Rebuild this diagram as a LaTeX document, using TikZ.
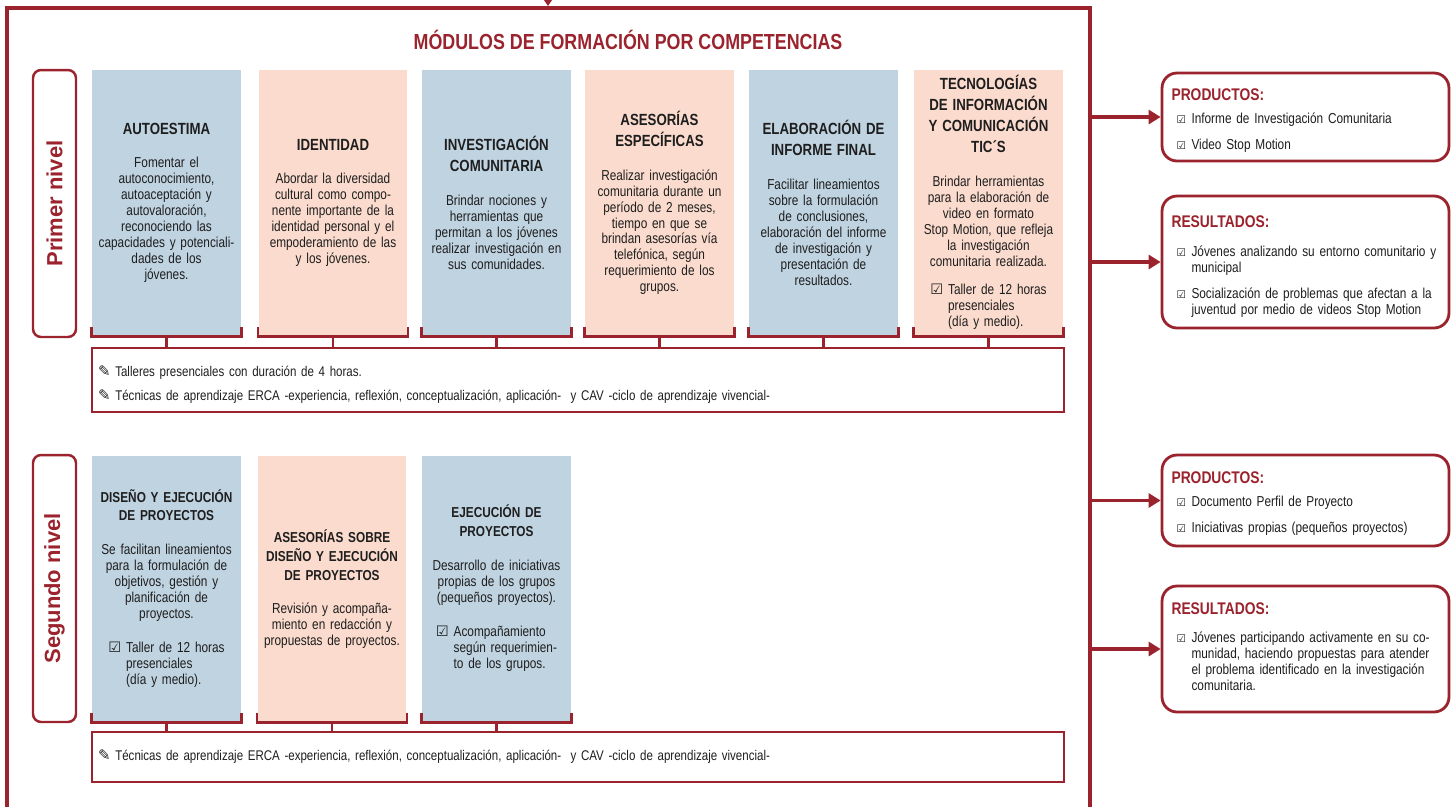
\documentclass[tikz,border=0pt]{standalone}
\usepackage{fontspec}
\setmainfont{Liberation Sans}[FakeStretch=0.82]
\newfontfamily\nivelfont{Liberation Sans}
\newfontfamily\simbfont{DejaVu Sans}
\usetikzlibrary{arrows.meta}

\definecolor{vino}{RGB}{155,35,45}
\definecolor{celeste}{RGB}{192,211,225}
\definecolor{durazno}{RGB}{250,219,205}
\definecolor{tinta}{RGB}{30,30,30}

\newcommand{\txtmod}{\fontsize{8.2}{9.1}\selectfont}
\newcommand{\txtnota}{\fontsize{8}{9.6}\selectfont}
\newcommand{\titmod}[1]{{\fontsize{9.2}{12}\selectfont\bfseries #1\\[10pt]}}
\newcommand{\titmodb}[1]{{\fontsize{8.2}{10.8}\selectfont\bfseries #1\\[10pt]}}
\newcommand{\titsal}[2]{{\fontsize{9.6}{11}\selectfont\bfseries\color{vino}#1\\[#2]}}
\newcommand{\casilla}{{\simbfont\char"2611}}
\newcommand{\casillap}{{\simbfont\fontsize{6}{7}\selectfont\char"2611}}
\newcommand{\lapiz}{{\simbfont\fontsize{8.5}{9}\selectfont\char"270E}}

\tikzset{
  modulo/.style={minimum width=2.98cm, minimum height=5.32cm, text width=2.9cm,
    inner sep=0.04cm, align=center, text=tinta, font=\txtmod},
  azul/.style={modulo, fill=celeste},
  rosa/.style={modulo, fill=durazno},
  nivel/.style={draw=vino, line width=1.4pt, rounded corners=0.16cm, fill=white,
    minimum width=5.34cm, minimum height=0.86cm, inner sep=0pt, rotate=90,
    text=vino, font=\nivelfont\fontsize{12.5}{14}\selectfont\bfseries},
  notas/.style={draw=vino, line width=1.4pt, minimum width=19.44cm, text width=19.2cm,
    inner xsep=0.12cm, align=left, font=\txtnota, text=tinta},
  salida/.style={draw=vino, line width=1.6pt, rounded corners=0.3cm, fill=white,
    minimum width=5.74cm, text width=5.36cm, inner xsep=0.19cm, align=left,
    font=\txtmod, text=tinta},
  brk/.style={draw=vino, line width=1.5pt},
  marco/.style={draw=vino, line width=2.3pt},
  flecha/.style={draw=vino, line width=2pt, -{Triangle[length=0.24cm,width=0.28cm]}},
}

\begin{document}
\begin{tikzpicture}[x=0.02cm, y=-0.02cm]
\useasboundingbox (0,0) rectangle (1455,806);

\draw[marco] (7,830) -- (7,8) -- (1090,8) -- (1090,830);
\coordinate (esq) at (1090,8);
\coordinate (entrada) at (548,-14);
\draw[flecha, -{Triangle[length=0.14cm,width=0.18cm]}] (entrada) -- ([yshift=0.04cm]entrada |- esq);

\node[text=vino, font=\fontsize{12.4}{14}\selectfont\bfseries] (titulo) at (628,40)
  {MÓDULOS DE FORMACIÓN POR COMPETENCIAS};

\node[nivel] (n1) at (54.5,203.5) {Primer nivel};
\node[nivel] (n2) at (54.5,588.5) {Segundo nivel};

\node[azul] (a1) at (166.5,203) {\titmod{AUTOESTIMA}
  Fomentar el\\ autoconocimiento,\\ autoaceptación y\\ autovaloración,\\ reconociendo las\\
  capacidades y potenciali-\\ dades de los\\ jóvenes.};
\node[rosa] (a2) at (333,203) {\titmod{IDENTIDAD}
  Abordar la diversidad\\ cultural como compo-\\ nente importante de la\\
  identidad personal y el\\ empoderamiento de las\\ y los jóvenes.};
\node[azul] (a3) at (496.5,203) {\titmod{INVESTIGACIÓN\\ COMUNITARIA}
  Brindar nociones y\\ herramientas que\\ permitan a los jóvenes\\
  realizar investigación en\\ sus comunidades.};
\node[rosa] (a4) at (659.5,203) {\titmod{ASESORÍAS\\ ESPECÍFICAS}
  Realizar investigación\\ comunitaria durante un\\ período de 2 meses,\\ tiempo en que se\\
  brindan asesorías vía\\ telefónica, según\\ requerimiento de los\\ grupos.};
\node[azul] (a5) at (823.5,203) {\titmod{ELABORACIÓN DE\\ INFORME FINAL}
  Facilitar lineamientos\\ sobre la formulación\\ de conclusiones,\\ elaboración del informe\\
  de investigación y\\ presentación de\\ resultados.};
\node[rosa] (a6) at (988.5,203) {\titmod{TECNOLOGÍAS\\ DE INFORMACIÓN\\ Y COMUNICACIÓN\\ TIC´S}
  Brindar herramientas\\ para la elaboración de\\ video en formato\\ Stop Motion, que refleja\\
  la investigación\\ comunitaria realizada.\\[7pt]
  \begin{tabular}[t]{@{}l@{\ }l@{}}\casilla & Taller de 12 horas\\ & presenciales\\ & (día y medio).\end{tabular}};

\node[notas, minimum height=1.28cm] (na) at (578,380) {\rule{0pt}{11.5pt}\lapiz\ Talleres presenciales con duración de 4 horas.\\[4pt]
  \lapiz\ Técnicas de aprendizaje ERCA -experiencia, reflexión, conceptualización, aplicación-\ \ y CAV -ciclo de aprendizaje vivencial-};

\node[azul] (b1) at (166.5,589) {\titmodb{DISEÑO Y EJECUCIÓN\\ DE PROYECTOS}
  Se facilitan lineamientos\\ para la formulación de\\ objetivos, gestión y\\ planificación de\\ proyectos.\\[10pt]
  \begin{tabular}[t]{@{}l@{\ }l@{}}\casilla & Taller de 12 horas\\ & presenciales\\ & (día y medio).\end{tabular}};
\node[rosa] (b2) at (332,589) {\titmodb{ASESORÍAS SOBRE\\ DISEÑO Y EJECUCIÓN\\ DE PROYECTOS}
  Revisión y acompaña-\\ miento en redacción y\\ propuestas de proyectos.};
\node[azul] (b3) at (496.5,589) {\titmodb{EJECUCIÓN DE\\ PROYECTOS}
  Desarrollo de iniciativas\\ propias de los grupos\\ (pequeños proyectos).\\[10pt]
  \begin{tabular}[t]{@{}l@{\ }l@{}}\casilla & Acompañamiento\\ & según requerimien-\\ & to de los grupos.\end{tabular}};

\node[notas, minimum height=1cm] (nb) at (578,757) {\lapiz\ Técnicas de aprendizaje ERCA -experiencia, reflexión, conceptualización, aplicación-\ \ y CAV -ciclo de aprendizaje vivencial-};

\foreach \m in {a1,a2,a3,a4,a5,a6}{
  \draw[brk] ([yshift=0.18cm]\m.south west) -- (\m.south west) -- (\m.south east) -- ([yshift=0.18cm]\m.south east);
  \draw[brk] (\m.south) -- (\m.south |- na.north);
}
\foreach \m in {b1,b2,b3}{
  \draw[brk] ([yshift=0.18cm]\m.south west) -- (\m.south west) -- (\m.south east) -- ([yshift=0.18cm]\m.south east);
  \draw[brk] (\m.south) -- (\m.south |- nb.north);
}

\node[salida, minimum height=1.76cm] (p1) at (1305.5,117) {\rule{0pt}{12pt}\titsal{PRODUCTOS:}{4pt}
  \hspace*{0.1cm}\begin{tabular}[t]{@{}p{0.3cm}@{}p{4.94cm}@{}}
  \casillap & Informe de Investigación Comunitaria\\[0.2cm]
  \casillap & Video Stop Motion\end{tabular}};
\node[salida, minimum height=2.64cm] (r1) at (1305.5,262) {\rule{0pt}{13pt}\titsal{RESULTADOS:}{7pt}
  \hspace*{0.1cm}\begin{tabular}[t]{@{}p{0.3cm}@{}p{4.94cm}@{}}
  \casillap & Jóvenes analizando su entorno comunitario y municipal\\[0.2cm]
  \casillap & Socialización de problemas que afectan a la juventud por medio de videos Stop Motion\end{tabular}};
\node[salida, minimum height=1.82cm] (p2) at (1305.5,500.5) {\rule{0pt}{11pt}\titsal{PRODUCTOS:}{4pt}
  \hspace*{0.1cm}\begin{tabular}[t]{@{}p{0.3cm}@{}p{4.94cm}@{}}
  \casillap & Documento Perfil de Proyecto\\[0.2cm]
  \casillap & Iniciativas propias (pequeños proyectos)\end{tabular}};
\node[salida, minimum height=2.52cm] (r2) at (1305.5,649) {\titsal{RESULTADOS:}{7pt}
  \hspace*{0.1cm}\begin{tabular}[t]{@{}p{0.3cm}@{}p{4.94cm}@{}}
  \casillap & Jóvenes participando activamente en su co\-munidad, haciendo propuestas para atender el problema identificado en la investigación comunitaria.\end{tabular}};

\draw[flecha] (esq |- p1.west) -- (p1.west);
\draw[flecha] (esq |- r1.west) -- (r1.west);
\draw[flecha] (esq |- p2.west) -- (p2.west);
\draw[flecha] (esq |- r2.west) -- (r2.west);
\end{tikzpicture}
\end{document}
